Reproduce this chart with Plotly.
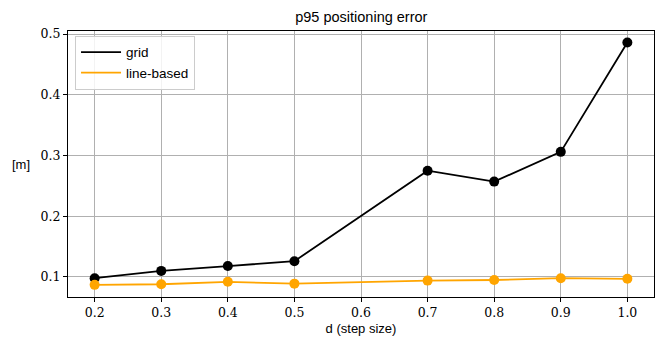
import plotly.graph_objects as go

d = [0.2, 0.3, 0.4, 0.5, 0.7, 0.8, 0.9, 1.0]
grid_err = [0.098, 0.110, 0.118, 0.126, 0.275, 0.257, 0.306, 0.486]
line_err = [0.087, 0.088, 0.092, 0.089, 0.094, 0.095, 0.098, 0.097]
x_ticks = [0.2, 0.3, 0.4, 0.5, 0.6, 0.7, 0.8, 0.9, 1.0]
y_ticks = [0.1, 0.2, 0.3, 0.4, 0.5]

BLACK = "#000000"
ORANGE = "#ffa500"
SERIF = "DejaVu Serif, Liberation Serif, Times New Roman, serif"

fig = go.Figure()
for name, ys, col in [("grid", grid_err, BLACK), ("line-based", line_err, ORANGE)]:
    fig.add_trace(go.Scatter(x=d, y=ys, mode="markers", showlegend=False,
                             marker=dict(color=col, size=10, line=dict(width=0)),
                             hoverinfo="skip"))
for name, ys, col in [("grid", grid_err, BLACK), ("line-based", line_err, ORANGE)]:
    fig.add_trace(go.Scatter(x=d, y=ys, mode="lines", name=name,
                             line=dict(color=col, width=1.8)))

axis_common = dict(
    showline=True, linecolor="black", linewidth=1.3, mirror=True,
    ticks="outside", ticklen=4, tickwidth=1, tickcolor="black",
    showgrid=True, gridcolor="#b0b0b0", gridwidth=1.3, zeroline=False,
    tickfont=dict(family=SERIF, size=12.5, color="black"),
)
fig.update_xaxes(range=[0.16, 1.04], tickvals=x_ticks,
                 ticktext=[f"{v:.1f}" for v in x_ticks],
                 title=dict(text="d (step size)", standoff=4,
                            font=dict(family="Liberation Sans", size=13, color="black")),
                 **axis_common)
fig.update_yaxes(range=[0.067, 0.505], tickvals=y_ticks,
                 ticktext=[f"{v:.1f}" for v in y_ticks], **axis_common)

fig.update_layout(
    width=663, height=343,
    margin=dict(l=68, r=9, t=31, b=46),
    plot_bgcolor="white", paper_bgcolor="white",
    title=dict(text="p95 positioning error", x=0.545, xanchor="center", y=0.95, yanchor="middle",
               font=dict(family="Liberation Sans", size=14.5, color="black")),
    legend=dict(x=0.012, y=0.982, xanchor="left", yanchor="top",
                bgcolor="rgba(255,255,255,0.85)", bordercolor="#cccccc", borderwidth=1,
                font=dict(family="Liberation Sans", size=13.5, color="black"),
                itemwidth=40, tracegroupgap=0),
    annotations=[dict(text="[m]", xref="paper", yref="paper", x=-0.062, y=0.5,
                      xanchor="right", yanchor="middle", showarrow=False,
                      font=dict(family="Liberation Sans", size=13, color="black"))],
    showlegend=True,
)
fig.write_html("out.html")
